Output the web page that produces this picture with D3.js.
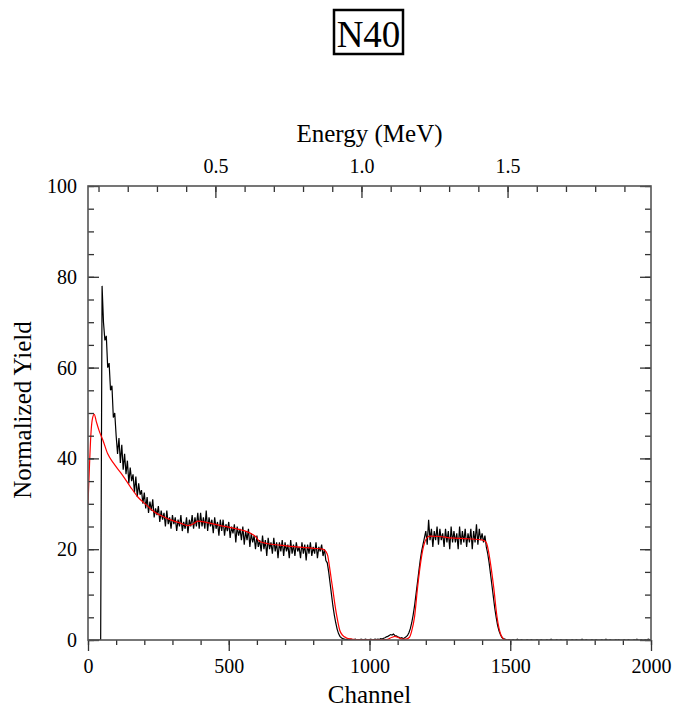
<!DOCTYPE html>
<meta charset="utf-8">
<style>
body { margin: 0; background: #fff; }
text { font-family: "Liberation Serif", "Times New Roman", serif; fill: #000; }
</style>
<svg width="676" height="713"></svg>
<script src="https://d3js.org/d3.v7.min.js"></script>
<script>

// measured spectrum, one value every 5 channels (0..2000), 20 values per row = 100 channels
var spectrumStep = 5;
var spectrum = [
  0, 0, 0, 0, 0, 0, 0, 0, 0, 0, 78, 70, 66, 67, 60, 61, 55, 56, 49, 50,
  45, 41, 44.5, 39, 43, 37.5, 41, 36.5, 39.5, 34.5, 38, 35, 36.5, 32.5, 36, 31.5, 34.5, 32, 33, 30,
  32.5, 29, 31.5, 28, 30.5, 28.5, 31, 27, 29, 27.5, 29.5, 26, 28.5, 26.5, 28, 25, 28.5, 25.5, 27, 24.5,
  27.5, 25.5, 27, 24, 26.5, 25, 27.5, 24, 26, 24.5, 27, 23.5, 26.5, 25, 27.5, 24.5, 27, 25, 28, 24.5,
  28, 25, 27, 24.5, 28.5, 24, 27, 25, 26.5, 23.5, 27, 24.5, 26, 23, 26.5, 24, 26.5, 23, 25.5, 24,
  26, 22.5, 25, 23.5, 25.5, 21.5, 25, 23, 24.5, 22, 25, 21, 24, 22, 24.5, 20.5, 23.5, 21.5, 23, 20,
  23, 20.5, 22, 19.5, 23, 20, 22, 18.5, 22.5, 20, 21.5, 19, 22.5, 19.5, 21.5, 18, 21.5, 19.5, 22, 18.5,
  21.5, 19.5, 21, 18, 22, 19, 21, 18.5, 21.5, 19.5, 20.5, 18, 21.5, 19, 21, 17.5, 21, 19, 21.5, 18.5,
  20.5, 19, 21.5, 18, 20.5, 19.5, 21, 18.5, 20, 17.5, 17, 15, 12.5, 10, 7.5, 5.5, 3.8, 2.4, 1.4, 0.8,
  0.5, 0.3, 0.2, 0.1, 0.2, 0, 0.1, 0.2, 0, 0.1, 0.2, 0, 0.1, 0, 0.2, 0.1, 0, 0.2, 0.1, 0,
  0.1, 0.2, 0, 0.1, 0.2, 0.1, 0.2, 0.1, 0.3, 0.2, 0.4, 0.5, 0.7, 0.8, 1.0, 1.2, 1.1, 1.3, 1.0, 0.9,
  0.7, 0.6, 0.4, 0.5, 0.3, 0.5, 0.7, 1.0, 1.6, 2.5, 3.8, 5.5, 7.5, 10, 12.5, 15, 17.5, 19.5, 21, 22.5,
  24, 21, 26.5, 22, 24.5, 20.5, 24, 22, 25, 21, 24.5, 22, 23.5, 20.5, 24.5, 21.5, 24, 20, 25, 21.5,
  24, 21.5, 23.5, 20, 25, 21, 24, 21.5, 24.5, 20.5, 23.5, 21.5, 24.5, 20, 24, 21.5, 25.5, 21, 24.5, 22,
  23.5, 21.5, 23, 20.5, 19, 17, 14.5, 12, 9.5, 7, 5, 3.2, 2, 1.2, 0.6, 0.3, 0.2, 0.1, 0, 0.1,
  0, 0, 0.1, 0, 0, 0.2, 0, 0, 0.1, 0, 0, 0, 0.1, 0, 0, 0.1, 0, 0, 0, 0.1,
  0, 0, 0.1, 0, 0, 0, 0.1, 0, 0, 0.2, 0, 0, 0, 0.1, 0, 0, 0.1, 0, 0, 0,
  0.1, 0, 0, 0, 0.1, 0, 0, 0.1, 0, 0, 0, 0.2, 0, 0, 0.1, 0, 0, 0, 0.1, 0,
  0, 0.1, 0, 0, 0, 0.1, 0, 0, 0.2, 0, 0, 0.1, 0, 0, 0, 0.1, 0, 0.1, 0, 0,
  0, 0.1, 0, 0, 0.1, 0, 0, 0, 0.1, 0, 0.2, 0, 0, 0.1, 0, 0, 0.1, 0, 0.2, 0.1,
  0
];

// simulated fit (red)
var fitChannel = [0, 5, 10, 15, 22, 30, 40, 53, 70, 90, 118, 150, 177, 210, 236, 270, 296, 330, 355, 375,
  390, 420, 470, 520, 574, 595, 610, 640, 681, 740, 800, 834, 846, 852, 858, 864, 870, 876, 882, 888,
  894, 905, 917, 935, 950, 1000, 1060, 1080, 1090, 1100, 1115, 1130, 1142, 1150, 1160, 1171, 1183, 1189, 1195, 1203,
  1213, 1250, 1284, 1350, 1402, 1410, 1416, 1422, 1428, 1441, 1453, 1460, 1467, 1475, 1484, 1500];
var fitYield = [30, 38, 45, 48.5, 49.7, 48, 46, 44, 41, 39, 36.7, 33.8, 31.5, 29.6, 28.2, 27.1, 26.4, 25.7, 25.2, 25.6,
  26.2, 25.9, 25.2, 24.6, 23.6, 22.8, 21.7, 21.2, 20.9, 20.5, 20.2, 20.0, 19.4, 18.5, 16.1, 13.5, 11, 8.3, 5.9, 3.9,
  2.2, 1.0, 0.5, 0.2, 0.1, 0.05, 0.1, 0.6, 0.8, 0.6, 0.2, 0.2, 0.6, 2, 5.1, 11.7, 17.6, 19.8, 21.3, 22.4,
  22.9, 22.8, 22.5, 22.3, 22.0, 21.8, 21.3, 19.8, 17.6, 11.7, 5.1, 2.6, 1.1, 0.3, 0, 0];

var yMajor = [0, 20, 40, 60, 80, 100];
var xMajor = [0, 500, 1000, 1500, 2000];
var eMajor = [0.5, 1.0, 1.5];
var energyDomain = [0.064, 1.991];

var x0 = 88, x1 = 651, y0 = 186, y1 = 640;

var svg = d3.select("svg");

var x = d3.scaleLinear().domain([0, 2000]).range([x0, x1]);
var y = d3.scaleLinear().domain([0, 100]).range([y1, y0]);
var e = d3.scaleLinear().domain(energyDomain).range([x0, x1]);

svg.append("clipPath").attr("id", "clip")
  .append("rect").attr("x", x0).attr("y", y0 - 2).attr("width", x1 - x0).attr("height", y1 - y0 + 2);

// data
var plot = svg.append("g").attr("clip-path", "url(#clip)");

plot.append("path")
  .datum(spectrum)
  .attr("fill", "none")
  .attr("stroke", "#000")
  .attr("stroke-width", 1.2)
  .attr("d", d3.line().x(function(d, i) { return x(i * spectrumStep); }).y(function(d) { return y(d); }));

plot.append("path")
  .datum(d3.zip(fitChannel, fitYield))
  .attr("fill", "none")
  .attr("stroke", "#f00")
  .attr("stroke-width", 1.2)
  .attr("d", d3.line().curve(d3.curveMonotoneX).x(function(d) { return x(d[0]); }).y(function(d) { return y(d[1]); }));

// axes
function style(g) {
  g.select(".domain").remove();
  g.selectAll("line").attr("stroke", "#333").attr("stroke-width", 1.3);
  g.selectAll("text").attr("font-size", 20);
}

svg.append("g").attr("transform", "translate(" + x0 + ",0)")
  .call(d3.axisLeft(y).tickValues(d3.range(0, 101, 5)).tickSize(-6).tickFormat("")).call(style);
svg.append("g").attr("transform", "translate(" + x0 + ",0)")
  .call(d3.axisLeft(y).tickValues(yMajor).tickSize(-11).tickPadding(11)).call(style);

svg.append("g").attr("transform", "translate(" + x1 + ",0)")
  .call(d3.axisRight(y).tickValues(d3.range(0, 101, 5)).tickSize(-6).tickFormat("")).call(style);
svg.append("g").attr("transform", "translate(" + x1 + ",0)")
  .call(d3.axisRight(y).tickValues(yMajor).tickSize(-11).tickFormat("")).call(style);

svg.append("g").attr("transform", "translate(0," + y1 + ")")
  .call(d3.axisBottom(x).tickValues(d3.range(0, 2001, 100)).tickSize(5).tickFormat("")).call(style);
svg.append("g").attr("transform", "translate(0," + y1 + ")")
  .call(d3.axisBottom(x).tickValues(xMajor).tickSize(11).tickPadding(8).tickFormat(d3.format("d"))).call(style);

svg.append("g").attr("transform", "translate(0," + y0 + ")")
  .call(d3.axisTop(e).tickValues(d3.range(1, 20).map(function(i) { return i / 10; })).tickSize(-6).tickFormat("")).call(style);
svg.append("g").attr("transform", "translate(0," + y0 + ")")
  .call(d3.axisTop(e).tickValues(eMajor).tickSize(-12).tickPadding(13).tickFormat(d3.format(".1f"))).call(style);

// frame
svg.append("rect")
  .attr("x", x0).attr("y", y0).attr("width", x1 - x0).attr("height", y1 - y0)
  .attr("fill", "none").attr("stroke", "#555").attr("stroke-width", 1.6);

// labels
svg.append("text").attr("x", (x0 + x1) / 2).attr("y", 142)
  .attr("text-anchor", "middle").attr("font-size", 25).text("Energy (MeV)");
svg.append("text").attr("x", (x0 + x1) / 2).attr("y", 703)
  .attr("text-anchor", "middle").attr("font-size", 25).text("Channel");
svg.append("text").attr("transform", "translate(31,410) rotate(-90)")
  .attr("text-anchor", "middle").attr("font-size", 25).text("Normalized Yield");

// title box
svg.append("rect").attr("x", 334).attr("y", 10).attr("width", 69).attr("height", 44)
  .attr("fill", "none").attr("stroke", "#000").attr("stroke-width", 2.5);
svg.append("text").attr("x", 368.5).attr("y", 46.5)
  .attr("text-anchor", "middle").attr("font-size", 37).text("N40");

</script>
